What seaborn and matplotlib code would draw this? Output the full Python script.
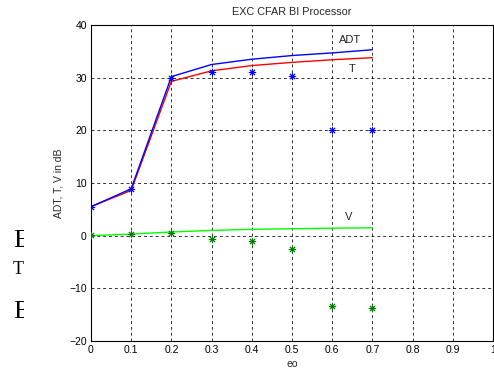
import matplotlib
matplotlib.use("Agg")
import matplotlib.pyplot as plt
from matplotlib.transforms import Bbox
import seaborn as sns
import pandas as pd

eo = [0.0, 0.1, 0.2, 0.3, 0.4, 0.5, 0.6, 0.7]
adt_line = [5.5, 8.9, 30.2, 32.5, 33.5, 34.2, 34.7, 35.3]
t_line = [5.5, 8.6, 29.3, 31.3, 32.3, 32.9, 33.4, 33.8]
adt_pts = [5.5, 8.8, 30.0, 31.0, 31.1, 30.3, 20.0, 20.0]
v_eo = [0.0, 0.1, 0.2, 0.3, 0.4, 0.55, 0.55, 0.7]
v_line = [0.0, 0.3, 0.7, 1.0, 1.2, 1.3, 1.45, 1.5]
v_pts = [0.1, 0.3, 0.6, -0.6, -1.1, -2.6, -13.3, -13.7]

xticks = [0, 0.1, 0.2, 0.3, 0.4, 0.5, 0.6, 0.7, 0.8, 0.9, 1]
xticklabels = ["0", "0.1", "0.2", "0.3", "0.4", "0.5", "0.6", "0.7", "0.8", "0.9", "1"]
yticks = [-20, -10, 0, 10, 20, 30, 40]

sns.set_style("white")
plt.rcParams['font.family'] = ['Liberation Sans', 'DejaVu Sans']

fig = plt.figure(figsize=(4.94, 3.75), dpi=100)
ax = fig.add_axes([91/494, 1-341/375, 402/494, 316/375])

df_adt = pd.DataFrame({"eo": eo, "val": adt_line})
df_t = pd.DataFrame({"eo": eo, "val": t_line})
df_v = pd.DataFrame({"eo": v_eo, "val": v_line})
sns.lineplot(data=df_t, x="eo", y="val", color=(1, 0, 0), lw=1.0, ax=ax, sort=False)
sns.lineplot(data=df_adt, x="eo", y="val", color=(0, 0, 1), lw=1.0, ax=ax, sort=False)
sns.lineplot(data=df_v, x="eo", y="val", color=(0, 1, 0), lw=1.0, ax=ax, sort=False)

ast = (8, 2, 0)
sns.scatterplot(x=eo, y=adt_pts, marker=ast, s=22, color=(0, 0, 1), linewidth=0.7, ax=ax, zorder=5)
sns.scatterplot(x=eo, y=v_pts, marker=ast, s=22, color=(0, 0.5, 0), linewidth=0.7, ax=ax, zorder=5)

ax.set_xlim(0, 1)
ax.set_ylim(-20, 40)
ax.set_xticks(xticks)
ax.set_xticklabels(xticklabels)
ax.set_yticks(yticks)
ax.tick_params(direction='in', length=3, labelsize=7.5, colors='black', pad=3)
ax.grid(True, color='black', linestyle=(0, (3, 3)), linewidth=0.7, alpha=0.8)
for s in ax.spines.values():
    s.set_color('black')
    s.set_linewidth(0.8)

ax.set_title("EXC CFAR BI Processor", fontsize=7.8, pad=7)
ax.set_xlabel("eo", fontsize=7.5, labelpad=3)
ax.set_ylabel("ADT, T, V in dB", fontsize=7.5, labelpad=4)

ax.text(0.645, 37.2, "ADT", fontsize=8, ha='center', va='center')
ax.text(0.65, 31.6, "T", fontsize=8, ha='center', va='center')
ax.text(0.64, 3.6, "V", fontsize=8, ha='center', va='center')

clip = Bbox.from_extents(13, 0, 23.5, 375)
for txt, yy, fs in [("E", 241, 19), ("T", 270, 13), ("B", 312, 19)]:
    t = fig.text(13/494, 1-yy/375, txt, fontsize=fs, family='Liberation Serif',
                 va='center', ha='left', color='black')
    t.set_clip_box(clip)
    t.set_clip_on(True)

fig.savefig("out.png", dpi=100)
